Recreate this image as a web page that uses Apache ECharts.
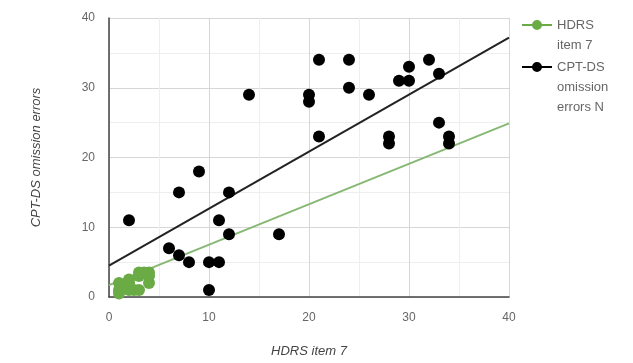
<!DOCTYPE html>
<html>
<head>
<meta charset="utf-8">
<script src="https://cdn.jsdelivr.net/npm/echarts@6/dist/echarts.min.js"></script>
<style>
  html, body { margin: 0; padding: 0; background: #fff; }
  #chart { width: 633px; height: 363px; }
</style>
</head>
<body>
<div id="chart"></div>
<script>
// HDRS item 7 vs CPT-DS omission errors

const seriesNames = ['HDRS item 7', 'CPT-DS omission errors N'];
// leading blank lines keep the first line level with the icon
const legendLabels = ['\nHDRS\nitem 7', '\n\nCPT-DS\nomission\nerrors N'];

// [x, y]
const hdrsPoints = [
  [1, 1], [1, 2], [2, 1], [2, 2], [2, 2.5], [3, 1], [3, 3], [3.5, 3.5],
  [4, 2], [4, 3], [4, 3.5], [1.5, 1.5], [3, 3.5], [2.5, 1], [1, 0.5]
];
const cptPoints = [
  [2, 11], [6, 7], [7, 6], [7, 15], [8, 5], [9, 18], [10, 1], [10, 5],
  [11, 5], [11, 11], [12, 9], [12, 15], [14, 29], [17, 9], [20, 28], [20, 29],
  [21, 23], [21, 34], [24, 30], [24, 34], [26, 29], [28, 22], [28, 23], [29, 31],
  [30, 31], [30, 33], [32, 34], [33, 32], [33, 25], [34, 22], [34, 23]
];

// trend lines (start / end)
const hdrsTrend = [[0, 1.7], [40, 24.9]];
const cptTrend = [[0, 4.5], [40, 37.2]];

const xTicks = { min: 0, max: 40, interval: 10 };
const yTicks = { min: 0, max: 40, interval: 10 };

const green = '#6aab45';
const greenLine = '#86b874';
const black = '#000';
const font = 'Liberation Sans, Arial';
const iconPath = 'path://M0,5 H30 V7 H0 Z M15,1 A5,5 0 1 1 14.99,1 Z';

const chart = echarts.init(document.getElementById('chart'));
chart.setOption({
  animation: false,
  grid: { left: 109, right: 124, top: 18, bottom: 63 },
  legend: {
    orient: 'vertical',
    left: 522,
    top: -5,
    padding: 0,
    itemWidth: 30,
    itemHeight: 12,
    itemGap: -38,
    data: [
      { name: seriesNames[0], icon: iconPath, itemStyle: { color: green } },
      { name: seriesNames[1], icon: iconPath, itemStyle: { color: black } }
    ],
    formatter: n => legendLabels[seriesNames.indexOf(n)],
    textStyle: { color: '#666', fontSize: 13, lineHeight: 20, fontFamily: font }
  },
  xAxis: {
    type: 'value',
    min: xTicks.min, max: xTicks.max, interval: xTicks.interval,
    name: 'HDRS item 7',
    nameLocation: 'middle',
    nameGap: 48,
    nameTextStyle: { color: '#444', fontStyle: 'italic', fontSize: 13, fontFamily: font },
    axisLine: { show: true, lineStyle: { color: '#444', width: 1.5 } },
    axisTick: { show: false },
    axisLabel: { color: '#666', fontSize: 12, margin: 15, fontFamily: font },
    splitLine: { show: true, lineStyle: { color: '#d6d6d6' } },
    minorSplitLine: { show: true, lineStyle: { color: '#eeeeee' } },
    minorTick: { show: false, splitNumber: 2 }
  },
  yAxis: {
    type: 'value',
    min: yTicks.min, max: yTicks.max, interval: yTicks.interval,
    name: 'CPT-DS omission errors',
    nameLocation: 'middle',
    nameGap: 66,
    nameTextStyle: { color: '#444', fontStyle: 'italic', fontSize: 13, fontFamily: font },
    axisLine: { show: true, lineStyle: { color: '#444', width: 1.5 } },
    axisTick: { show: false },
    axisLabel: { color: '#666', fontSize: 12, margin: 14, fontFamily: font },
    splitLine: { show: true, lineStyle: { color: '#d6d6d6' } },
    minorSplitLine: { show: true, lineStyle: { color: '#eeeeee' } },
    minorTick: { show: false, splitNumber: 2 }
  },
  series: [
    {
      name: seriesNames[0] + ' trend',
      type: 'line',
      data: hdrsTrend,
      symbol: 'none',
      lineStyle: { color: greenLine, width: 2 },
      z: 1
    },
    {
      name: seriesNames[1] + ' trend',
      type: 'line',
      data: cptTrend,
      symbol: 'none',
      lineStyle: { color: '#222', width: 2 },
      z: 1
    },
    {
      name: seriesNames[0],
      type: 'scatter',
      data: hdrsPoints,
      symbolSize: 12,
      itemStyle: { color: green, opacity: 1 },
      z: 3
    },
    {
      name: seriesNames[1],
      type: 'scatter',
      data: cptPoints,
      symbolSize: 12,
      itemStyle: { color: black, opacity: 1 },
      z: 3
    }
  ]
});
</script>
</body>
</html>
